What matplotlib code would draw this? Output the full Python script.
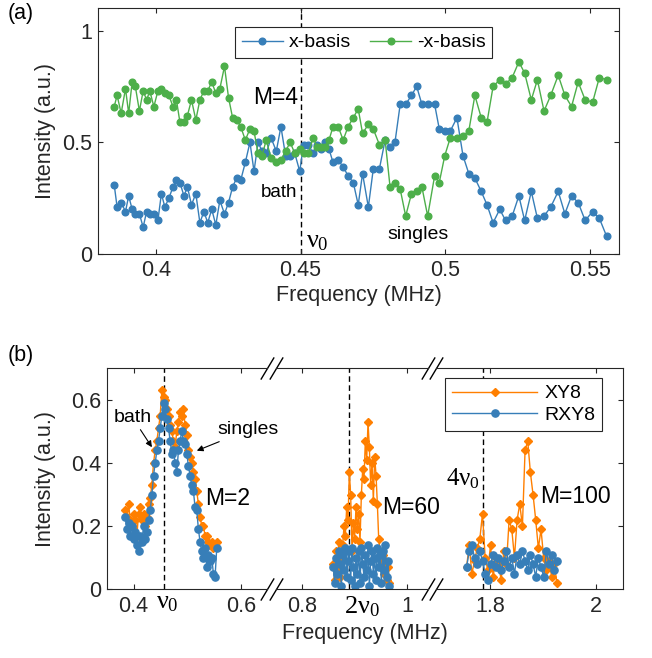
import matplotlib
matplotlib.use("Agg")
import matplotlib.pyplot as plt
from matplotlib.transforms import blended_transform_factory

plt.rcParams['font.family'] = ['Liberation Sans', 'DejaVu Sans']
plt.rcParams['mathtext.fontset'] = 'custom'
plt.rcParams['mathtext.rm'] = 'Liberation Serif'
plt.rcParams['mathtext.it'] = 'Liberation Serif'

BLUE = '#377eb8'
GREEN = '#4daf4a'
ORANGE = '#ff7f00'
DARK = '#262626'

# ---- panel (a): M=4 sweep ----
freq_a = [0.3856, 0.3866, 0.3880, 0.3895, 0.3906, 0.3918, 0.3929, 0.3943, 0.3956, 0.3968,
          0.3979, 0.3993, 0.4007, 0.4019, 0.4031, 0.4045, 0.4059, 0.4071, 0.4083, 0.4097,
          0.4109, 0.4123, 0.4138, 0.4152, 0.4166, 0.4179, 0.4193, 0.4207, 0.4221, 0.4237,
          0.4251, 0.4265, 0.4279, 0.4293, 0.4309, 0.4325, 0.4339, 0.4353, 0.4367, 0.4381,
          0.4398, 0.4416, 0.4432, 0.4448, 0.4464, 0.4480, 0.4497, 0.4510, 0.4527, 0.4543,
          0.4557, 0.4571, 0.4584, 0.4598, 0.4612, 0.4630, 0.4647, 0.4664, 0.4682, 0.4699,
          0.4714, 0.4734, 0.4751, 0.4772, 0.4792, 0.4809, 0.4826, 0.4844, 0.4863, 0.4883,
          0.4901, 0.4919, 0.4939, 0.4963, 0.4979, 0.4998, 0.5017, 0.5040, 0.5061, 0.5081,
          0.5102, 0.5124, 0.5144, 0.5165, 0.5188, 0.5208, 0.5231, 0.5254, 0.5274, 0.5297,
          0.5318, 0.5341, 0.5364, 0.5390, 0.5413, 0.5436, 0.5459, 0.5483, 0.5509, 0.5532, 0.5557]

x_basis = [0.31, 0.21, 0.23, 0.19, 0.26, 0.20, 0.18, 0.18, 0.12, 0.19,
           0.18, 0.18, 0.15, 0.27, 0.21, 0.25, 0.30, 0.33, 0.32, 0.26,
           0.30, 0.22, 0.27, 0.14, 0.19, 0.14, 0.20, 0.13, 0.24, 0.18,
           0.23, 0.30, 0.34, 0.33, 0.41, 0.50, 0.37, 0.50, 0.46, 0.45,
           0.52, 0.46, 0.57, 0.44, 0.44, 0.45, 0.37, 0.49, 0.49, 0.45,
           0.49, 0.47, 0.50, 0.47, 0.41, 0.42, 0.39, 0.35, 0.32, 0.22,
           0.36, 0.21, 0.38, 0.38, 0.51, 0.48, 0.50, 0.67, 0.67, 0.71,
           0.75, 0.67, 0.67, 0.67, 0.56, 0.55, 0.55, 0.61, 0.44, 0.36,
           0.34, 0.28, 0.22, 0.14, 0.20, 0.15, 0.17, 0.26, 0.15, 0.28,
           0.16, 0.17, 0.21, 0.28, 0.18, 0.26, 0.23, 0.15, 0.19, 0.16, 0.08]

minus_x_basis = [0.66, 0.71, 0.63, 0.74, 0.63, 0.77, 0.75, 0.64, 0.73, 0.69,
                 0.73, 0.66, 0.73, 0.74, 0.72, 0.71, 0.66, 0.69, 0.59, 0.59,
                 0.62, 0.69, 0.60, 0.69, 0.73, 0.73, 0.77, 0.72, 0.74, 0.84,
                 0.70, 0.61, 0.60, 0.57, 0.51, 0.56, 0.55, 0.45, 0.44, 0.51,
                 0.43, 0.41, 0.42, 0.46, 0.50, 0.45, 0.47, 0.45, 0.45, 0.52,
                 0.48, 0.48, 0.48, 0.51, 0.57, 0.57, 0.51, 0.57, 0.61, 0.65,
                 0.54, 0.58, 0.56, 0.49, 0.51, 0.30, 0.32, 0.29, 0.17, 0.27,
                 0.28, 0.30, 0.17, 0.35, 0.32, 0.44, 0.52, 0.52, 0.53, 0.55,
                 0.71, 0.61, 0.59, 0.75, 0.78, 0.76, 0.79, 0.86, 0.81, 0.69,
                 0.78, 0.64, 0.71, 0.80, 0.71, 0.66, 0.77, 0.69, 0.68, 0.79, 0.78]

nu0_a = 0.45

# ---- panel (b): XY8 vs RXY8, three frequency windows ----
freq_b1 = [0.3845, 0.3876, 0.3907, 0.3938, 0.3969, 0.4000, 0.4031, 0.4062, 0.4093, 0.4124,
           0.4155, 0.4186, 0.4217, 0.4248, 0.4279, 0.4310, 0.4341, 0.4372, 0.4403, 0.4434,
           0.4465, 0.4496, 0.4527, 0.4558, 0.4589, 0.4620, 0.4651, 0.4682, 0.4713, 0.4743,
           0.4774, 0.4805, 0.4836, 0.4867, 0.4898, 0.4929, 0.4960, 0.4991, 0.5022, 0.5053,
           0.5084, 0.5115, 0.5146, 0.5177, 0.5208, 0.5239, 0.5270, 0.5301, 0.5332, 0.5363,
           0.5394, 0.5425, 0.5456, 0.5487, 0.5518, 0.5549]
xy8_b1 = [0.25, 0.23, 0.27, 0.22, 0.20, 0.24, 0.22, 0.17, 0.24, 0.26,
          0.22, 0.24, 0.20, 0.23, 0.27, 0.29, 0.33, 0.40, 0.44, 0.47,
          0.51, 0.55, 0.63, 0.61, 0.60, 0.57, 0.55, 0.52, 0.50, 0.47,
          0.45, 0.50, 0.53, 0.56, 0.55, 0.57, 0.52, 0.49, 0.44, 0.42,
          0.40, 0.37, 0.35, 0.31, 0.27, 0.23, 0.20, 0.20, 0.17, 0.17,
          0.15, 0.14, 0.15, 0.13, 0.14, 0.15]
rxy8_b1 = [0.23, 0.19, 0.21, 0.17, 0.20, 0.16, 0.18, 0.14, 0.12, 0.17,
           0.15, 0.20, 0.16, 0.18, 0.22, 0.25, 0.30, 0.36, 0.40, 0.44,
           0.47, 0.51, 0.55, 0.59, 0.57, 0.54, 0.51, 0.47, 0.43, 0.44,
           0.40, 0.37, 0.44, 0.47, 0.50, 0.47, 0.46, 0.43, 0.39, 0.36,
           0.33, 0.31, 0.26, 0.25, 0.19, 0.15, 0.12, 0.10, 0.13, 0.07,
           0.11, 0.09, 0.10, 0.05, 0.04, 0.13]

freq_b2 = [0.8599, 0.8624, 0.8649, 0.8675, 0.8700, 0.8725, 0.8751, 0.8776, 0.8801, 0.8826,
           0.8852, 0.8877, 0.8902, 0.8927, 0.8953, 0.8978, 0.9003, 0.9028, 0.9054, 0.9079,
           0.9104, 0.9130, 0.9155, 0.9180, 0.9205, 0.9231, 0.9256, 0.9281, 0.9306, 0.9332,
           0.9357, 0.9382, 0.9408, 0.9433, 0.9458, 0.9483, 0.9509, 0.9534, 0.9559, 0.9584,
           0.9610, 0.9635, 0.9660]
xy8_b2 = [0.08, 0.03, 0.12, 0.06, 0.15, 0.04, 0.10, 0.14, 0.20, 0.17,
          0.26, 0.22, 0.37, 0.30, 0.12, 0.21, 0.16, 0.26, 0.19, 0.24,
          0.15, 0.30, 0.38, 0.35, 0.47, 0.41, 0.53, 0.45, 0.33, 0.40,
          0.28, 0.42, 0.36, 0.27, 0.16, 0.12, 0.07, 0.11, 0.05, 0.09,
          0.03, 0.07, 0.02]
rxy8_b2 = [0.07, 0.02, 0.10, 0.05, 0.12, 0.08, 0.01, 0.11, 0.06, 0.13,
           0.04, 0.09, 0.12, 0.03, 0.13, 0.07, 0.01, 0.10, 0.05, 0.12,
           0.02, 0.13, 0.08, 0.04, 0.11, 0.06, 0.14, 0.01, 0.09, 0.12,
           0.05, 0.10, 0.03, 0.13, 0.07, 0.11, 0.02, 0.12, 0.06, 0.14,
           0.04, 0.09, 0.01]

freq_b3 = [1.7562, 1.7612, 1.7662, 1.7712, 1.7762, 1.7812, 1.7862, 1.7912, 1.7962, 1.8013,
           1.8063, 1.8113, 1.8163, 1.8213, 1.8263, 1.8313, 1.8363, 1.8413, 1.8463, 1.8513,
           1.8563, 1.8613, 1.8663, 1.8713, 1.8763, 1.8813, 1.8863, 1.8913, 1.8963, 1.9013,
           1.9063, 1.9113, 1.9163, 1.9213, 1.9263]
xy8_b3 = [0.07, 0.14, 0.05, 0.09, 0.13, 0.16, 0.24, 0.10, 0.06, 0.14,
          0.04, 0.10, 0.08, 0.03, 0.12, 0.08, 0.22, 0.19, 0.10, 0.22,
          0.27, 0.20, 0.44, 0.47, 0.37, 0.30, 0.22, 0.13, 0.19, 0.10,
          0.06, 0.09, 0.04, 0.08, 0.02]
rxy8_b3 = [0.07, 0.12, 0.14, 0.10, 0.08, 0.12, 0.09, 0.05, 0.03, 0.08,
           0.11, 0.07, 0.10, 0.06, 0.09, 0.12, 0.07, 0.10, 0.05, 0.11,
           0.08, 0.12, 0.09, 0.06, 0.11, 0.08, 0.04, 0.10, 0.07, 0.04,
           0.12, 0.08, 0.11, 0.06, 0.09]

seg_limits = [(0.35, 0.6485), (0.7513, 1.0392), (1.6987, 2.05)]
seg_ticks = [[0.4, 0.6], [0.8, 1.0], [1.8, 2.0]]
seg_ticklabels = [['0.4', '0.6'], ['0.8', '1'], ['1.8', '2']]
nu_lines_b = [0.4576, 0.890, 1.7874]

fig = plt.figure(figsize=(6.52, 6.58), dpi=100)

TICK = dict(direction='in', length=3.6, width=0.8, color=DARK,
            labelcolor=DARK, labelsize=15.5)

# ---------------- (a) ----------------
ax = fig.add_axes([0.1503, 0.614, 0.7991, 0.3734])
ax.plot(freq_a, x_basis, '-o', color=BLUE, lw=1, ms=4.8, label='x-basis')
ax.plot(freq_a, minus_x_basis, '-o', color=GREEN, lw=1, ms=4.8, label='-x-basis')
ax.axvline(nu0_a, color='k', ls='--', lw=1, dashes=(4, 2.5), zorder=1)
ax.set_xlim(0.38, 0.56)
ax.set_ylim(0, 1.1)
ax.set_xticks([0.4, 0.45, 0.5, 0.55], ['0.4', '0.45', '0.5', '0.55'])
ax.set_yticks([0, 0.5, 1], ['0', '0.5', '1'])
ax.tick_params(top=True, right=True, pad=4, **TICK)
for s in ax.spines.values():
    s.set_color(DARK)
    s.set_linewidth(0.8)
leg = ax.legend(loc='upper left', bbox_to_anchor=(0.263, 0.924), ncol=2, fontsize=14,
                fancybox=False, edgecolor=DARK, framealpha=1, handlelength=2.1,
                handletextpad=0.3, columnspacing=1.0, borderpad=0.35, borderaxespad=0)
leg.get_frame().set_linewidth(0.8)
ax.text(0.449, 0.70, 'M=4', ha='right', va='center', fontsize=16.5)
ax.text(0.4487, 0.277, 'bath', ha='right', va='center', fontsize=13.5)
ax.text(0.4520, 0.06, r'$\nu_0$', ha='left', va='center', fontsize=19)
ax.text(0.4906, 0.086, 'singles', ha='center', va='center', fontsize=14)
fig.text(358.5 / 652, 1 - 296 / 658, 'Frequency (MHz)', ha='center', va='center',
         fontsize=15.5, color=DARK)
fig.text(46 / 652, 1 - 131 / 658, 'Intensity (a.u.)', rotation=90, ha='center',
         va='center', fontsize=15.5, color=DARK)
fig.text(8 / 652, 1 - 13 / 658, '(a)', ha='left', va='center', fontsize=15.5)

# ---------------- (b) ----------------
seg_px = [(106.7, 267), (276, 428), (436, 622.7)]
b_bottom, b_height = 68.7 / 658, 221 / 658
seg_data = [(freq_b1, xy8_b1, rxy8_b1), (freq_b2, xy8_b2, rxy8_b2),
            (freq_b3, xy8_b3, rxy8_b3)]
axes_b = []
for i, (x0, x1) in enumerate(seg_px):
    axb = fig.add_axes([x0 / 652, b_bottom, (x1 - x0) / 652, b_height])
    axb.set_facecolor('none')
    f, xy8, rxy8 = seg_data[i]
    axb.plot(f, xy8, '-D', color=ORANGE, lw=1, ms=4, label='XY8')
    axb.plot(f, rxy8, '-o', color=BLUE, lw=1, ms=5.2, label='RXY8')
    axb.axvline(nu_lines_b[i], color='k', ls='--', lw=1, dashes=(4, 2.5), zorder=1)
    axb.set_xlim(*seg_limits[i])
    axb.set_ylim(0, 0.7)
    axb.set_xticks(seg_ticks[i], seg_ticklabels[i])
    axb.tick_params(axis='x', top=True, pad=5, **TICK)
    for s in axb.spines.values():
        s.set_color(DARK)
        s.set_linewidth(0.8)
    if i == 0:
        axb.set_yticks([0, 0.2, 0.4, 0.6], ['0', '0.2', '0.4', '0.6'])
        axb.tick_params(axis='y', pad=4, **TICK)
        axb.spines['right'].set_visible(False)
    elif i == 1:
        axb.set_yticks([])
        axb.spines['left'].set_visible(False)
        axb.spines['right'].set_visible(False)
    else:
        axb.set_yticks([0.2, 0.4, 0.6])
        axb.tick_params(axis='y', left=False, right=True, labelleft=False, **TICK)
        axb.spines['left'].set_visible(False)
    axes_b.append(axb)

# break marks "//"
brk = dict(marker=[(-0.6, -1), (0.6, 1)], markersize=16, linestyle='none',
           color='k', mec='k', mew=1, clip_on=False)
for left_ax, right_ax in zip(axes_b[:-1], axes_b[1:]):
    left_ax.plot([1, 1], [0, 1], transform=left_ax.transAxes, **brk)
    right_ax.plot([0, 0], [0, 1], transform=right_ax.transAxes, **brk)

ax1, ax2, ax3 = axes_b
tr1 = blended_transform_factory(ax1.transData, ax1.transAxes)
tr2 = blended_transform_factory(ax2.transData, ax2.transAxes)
ax1.text(0.4626, -0.004, r'$\nu_0$', transform=tr1, ha='center', va='top', fontsize=19)
ax2.text(0.9142, -0.022, r'$2\nu_0$', transform=tr2, ha='center', va='top', fontsize=19)
ax3.text(1.7812, 0.35, r'$4\nu_0$', ha='right', va='center', fontsize=18)

arrow = dict(arrowstyle='-|>', color='k', lw=0.8, mutation_scale=9, shrinkA=1, shrinkB=0)
ax1.annotate('bath', xy=(0.4342, 0.45), xytext=(0.3976, 0.545), ha='center',
             va='center', fontsize=14, arrowprops=arrow)
ax1.annotate('singles', xy=(0.5178, 0.439), xytext=(0.614, 0.505), ha='center',
             va='center', fontsize=14, arrowprops=arrow)
ax1.text(0.5333, 0.289, 'M=2', ha='left', va='center', fontsize=16.5)
ax2.text(0.9515, 0.26, 'M=60', ha='left', va='center', fontsize=16.5)
ax3.text(1.8938, 0.293, 'M=100', ha='left', va='center', fontsize=16.5)

leg_b = ax3.legend(loc='upper left', bbox_to_anchor=(0.048, 0.956), fontsize=14,
                   fancybox=False, edgecolor=DARK, framealpha=1, handlelength=4.4,
                   handletextpad=0.35, borderpad=0.35, labelspacing=0.2,
                   borderaxespad=0, numpoints=1)
leg_b.get_frame().set_linewidth(0.8)

fig.text(364.7 / 652, 1 - 633 / 658, 'Frequency (MHz)', ha='center', va='center',
         fontsize=15.5, color=DARK)
fig.text(46 / 652, 1 - 478.8 / 658, 'Intensity (a.u.)', rotation=90, ha='center',
         va='center', fontsize=15.5, color=DARK)
fig.text(8 / 652, 1 - 356 / 658, '(b)', ha='left', va='center', fontsize=15.5)

fig.savefig('out.png', dpi=100)
